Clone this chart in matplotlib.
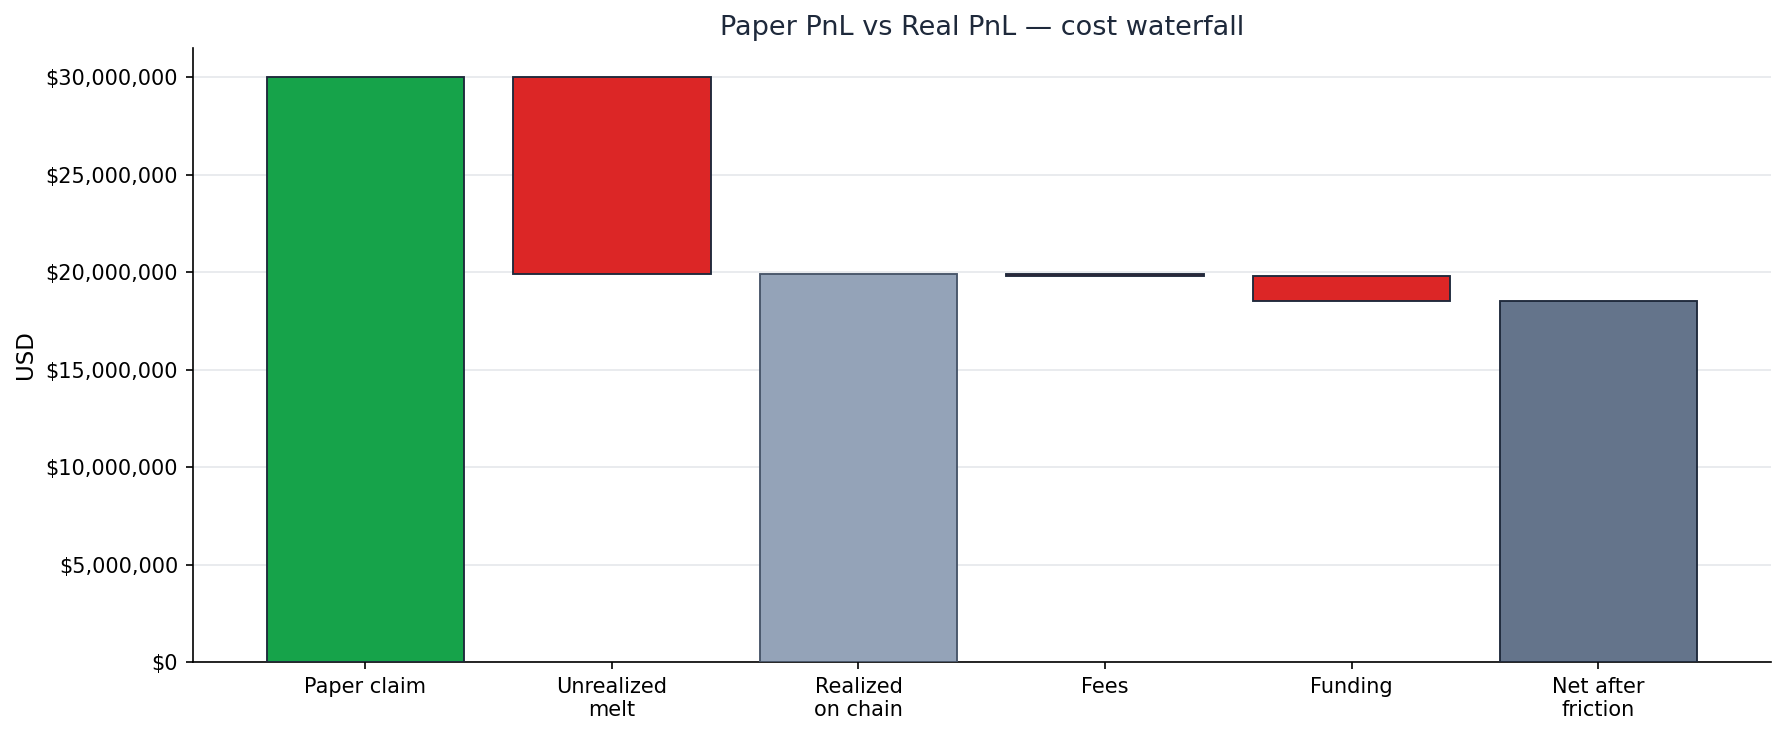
import matplotlib
matplotlib.use("Agg")
import matplotlib.pyplot as plt
from matplotlib.ticker import FuncFormatter

categories = ["Paper claim", "Unrealized\nmelt", "Realized\non chain", "Fees", "Funding", "Net after\nfriction"]
paper = 30_000_000
melt = -10_100_000
fees = -120_000
funding = -1_280_000
realized = paper + melt
net = realized + fees + funding

bottoms = [0, realized, 0, realized + fees, net, 0]
heights = [paper, -melt, realized, -fees, -funding, net]
colors = ["#16a34a", "#dc2626", "#94a3b8", "#dc2626", "#dc2626", "#64748b"]
edges = ["#1e293b", "#1e293b", "#475569", "#1e293b", "#1e293b", "#1e293b"]

fig, ax = plt.subplots(figsize=(11.9, 4.9), dpi=150)
ax.bar(range(len(categories)), heights, bottom=bottoms, color=colors, edgecolor=edges, linewidth=0.9, width=0.8, zorder=3)
ax.set_xticks(range(len(categories)))
ax.set_xticklabels(categories)
ax.yaxis.set_major_formatter(FuncFormatter(lambda v, p: f"${v:,.0f}"))
ax.set_ylim(0, 31_500_000)
ax.set_xlim(-0.7, 5.7)
ax.set_ylabel("USD", fontsize=11)
ax.set_title("Paper PnL vs Real PnL — cost waterfall", fontsize=13, color="#1e293b")
ax.grid(axis="y", color="#e5e7eb", linewidth=0.8, zorder=0)
ax.spines["top"].set_visible(False)
ax.spines["right"].set_visible(False)
fig.subplots_adjust(left=0.108, right=0.992, top=0.935, bottom=0.099)
fig.savefig("out.png")
